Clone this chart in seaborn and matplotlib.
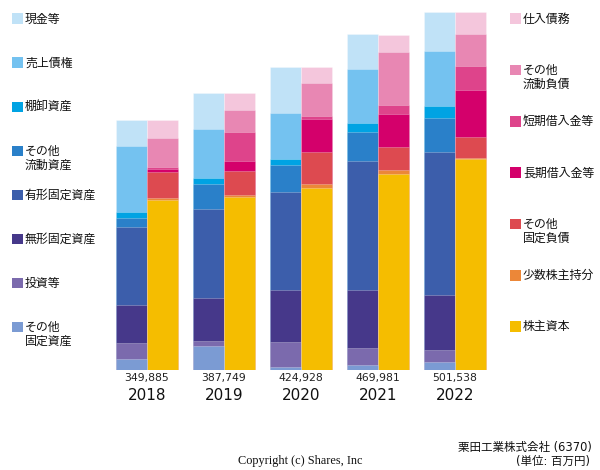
import pandas as pd
import matplotlib.pyplot as plt
import matplotlib as mpl
import seaborn as sns

# values in 百万円
years = ['2018', '2019', '2020', '2021', '2022']
totals = [349885, 387749, 424928, 469981, 501538]

# assets, top to bottom
asset_labels = ['現金等', '売上債権', '棚卸資産', 'その他\n流動資産', '有形固定資産',
                '無形固定資産', '投資等', 'その他\n固定資産']
cash = [36400, 50200, 65300, 48800, 54200]
receivables = [92000, 69100, 63600, 74800, 77900]
inventory = [9250, 8400, 9250, 13500, 16800]
other_current = [11800, 35000, 37800, 40600, 47600]
tangible = [110100, 124700, 137300, 180300, 200300]
intangible = [53200, 59800, 72400, 80800, 76600]
investments = [22000, 7000, 35400, 24700, 16800]
other_fixed = [15400, 33600, 3800, 6600, 11200]

# liabilities + equity, top to bottom
liab_labels = ['仕入債務', 'その他\n流動負債', '短期借入金等', '長期借入金等',
               'その他\n固定負債', '少数株主持分', '株主資本']
payables = [25200, 24200, 22400, 24900, 30800]
other_cur_liab = [41100, 30800, 46700, 74300, 45300]
short_debt = [2400, 40200, 4600, 12600, 32800]
long_debt = [4200, 14000, 45800, 45800, 66300]
other_fixed_liab = [36400, 33600, 44800, 31800, 29400]
minority = [2400, 2400, 5200, 5600, 1800]
equity = [238600, 242800, 255400, 275000, 295200]

asset_series = [cash, receivables, inventory, other_current, tangible,
                intangible, investments, other_fixed]
liab_series = [payables, other_cur_liab, short_debt, long_debt,
               other_fixed_liab, minority, equity]

ASSET_COLORS = ['#c0e2f7', '#74c2f0', '#00a3e3', '#2a80c9', '#3c5eab',
                '#46388a', '#7b6aad', '#7b9bd3']
LIAB_COLORS = ['#f4c6dc', '#e887b3', '#de448b', '#d4006b', '#dd4a50',
               '#ec8738', '#f5bd00']

sns.set_theme(style='white')
mpl.rcParams['font.family'] = ['Noto Sans CJK JP', 'DejaVu Sans']
MIXED = ['DejaVu Sans', 'Noto Sans CJK JP']  # wide latin digits, CJK fallback

W, H = 600, 470
fig = plt.figure(figsize=(6, 4.7), dpi=100)
# plot area: x 110..492 px, y 10..370 px
ax = fig.add_axes([110 / W, 1 - 370 / H, 382 / W, 360 / H])

ymax = 501538 * 360 / 358


def cum_from_bottom(series, n_keep):
    # sum of the bottom n_keep segments (series is top -> bottom)
    bottom_up = series[::-1]
    return [sum(s[i] for s in bottom_up[:n_keep]) for i in range(len(years))]


# overlap technique: draw tallest cumulative bars first, then smaller on top
n_layers = len(asset_series)
for j in range(n_layers):
    a_vals = cum_from_bottom(asset_series, n_layers - j)
    a_col = ASSET_COLORS[j]
    if j < len(liab_series):
        l_vals = cum_from_bottom(liab_series, len(liab_series) - j)
        l_col = LIAB_COLORS[j]
    else:
        l_vals = [0] * len(years)
        l_col = '#ffffff'
    df = pd.DataFrame({
        'year': years * 2,
        'side': ['assets'] * len(years) + ['liabs'] * len(years),
        'value': a_vals + l_vals,
    })
    sns.barplot(data=df, x='year', y='value', hue='side',
                hue_order=['assets', 'liabs'], palette=[a_col, l_col],
                dodge=True, width=0.805, saturation=1, errorbar=None,
                legend=False, linewidth=0.6, edgecolor=(1, 1, 1, 0.3), ax=ax)

ax.set_xlim(-0.48, 4.48)
ax.set_ylim(0, ymax)
ax.set_xlabel('')
ax.set_ylabel('')
ax.set_xticks([])
ax.set_yticks([])
for s in ax.spines.values():
    s.set_visible(False)

# totals and years under the bars
for i, (yr, tot) in enumerate(zip(years, totals)):
    ax.text(i, -8.5 / 360 * ymax, f'{tot:,}', ha='center', va='center',
            fontsize=7.8, family='DejaVu Sans', color='#222222', clip_on=False)
    ax.text(i, -25 / 360 * ymax, yr, ha='center', va='center',
            fontsize=11, family='DejaVu Sans', color='#111111', clip_on=False)


def legend_column(labels, colors, x_marker, y_start, step):
    for n, (lab, col) in enumerate(zip(labels, colors)):
        yc = y_start + n * step
        fig.patches.append(mpl.patches.Rectangle(
            (x_marker / W, 1 - (yc + 5.3) / H), 10.5 / W, 10.6 / H,
            transform=fig.transFigure, facecolor=col, edgecolor='none'))
        fig.text((x_marker + 13) / W, 1 - (yc - 6.2) / H, lab, ha='left', va='top',
                 fontsize=8.6, color='#111111', linespacing=1.1)


legend_column(asset_labels, ASSET_COLORS, 12, 18.7, 44.05)
legend_column(liab_labels, LIAB_COLORS, 510, 18.7, 51.3)

fig.text(300 / W, 1 - 461 / H, 'Copyright (c) Shares, Inc', ha='center', va='center',
         fontsize=8.8, family='Liberation Serif', color='#111111')
fig.text(592 / W, 1 - 447 / H, '栗田工業株式会社 (6370)', ha='right', va='center',
         fontsize=8.3, family=MIXED, color='#111111')
fig.text(590 / W, 1 - 461 / H, '(単位: 百万円)', ha='right', va='center',
         fontsize=8.3, family=MIXED, color='#111111')

fig.savefig('out.png', dpi=100)
plt.close(fig)
